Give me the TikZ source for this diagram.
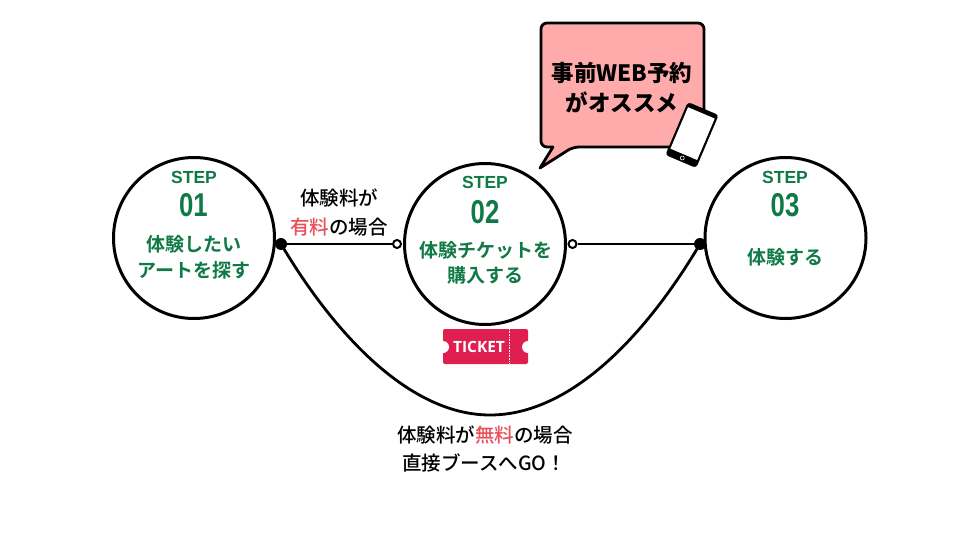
\documentclass[tikz,border=0pt]{standalone}
\usepackage{fontspec}
\setmainfont{Noto Sans CJK JP Medium}[BoldFont={Noto Sans CJK JP Bold}]
\newfontfamily\heavyf{Noto Sans CJK JP Black}
\newfontfamily\latinf{Liberation Sans}[BoldFont={* Bold}]
\newfontfamily\ticketf{Open Sans}[BoldFont={* Bold}]
\definecolor{stepgreen}{HTML}{0F7A45}
\definecolor{bubble}{HTML}{FFABAB}
\definecolor{redword}{HTML}{E8505B}
\definecolor{ticketred}{HTML}{DE1F50}
\tikzset{
  x=1pt,y=-1pt,
  stepcircle/.style={circle,draw=black,line width=3pt,fill=white,minimum size=161pt,inner sep=0pt},
  steplabel/.style={text=stepgreen,font=\latinf\bfseries\fontsize{17.5}{17.5}\selectfont,inner sep=0pt},
  stepnum/.style={text=stepgreen,font=\latinf\bfseries\fontsize{33}{33}\selectfont,inner sep=0pt,xscale=.78},
  stepbody/.style={text=stepgreen,font=\bfseries\fontsize{19}{25.5}\selectfont,align=center,inner sep=0pt},
  notetext/.style={text=black,font=\fontsize{19.5}{28.5}\selectfont,align=center,inner sep=0pt},
  wire/.style={line width=2.8pt,draw=black},
  opendot/.style={circle,draw=black,line width=2pt,fill=white,minimum size=8pt,inner sep=0pt},
  fulldot/.style={circle,fill=black,minimum size=12pt,inner sep=0pt},
}
\begin{document}
\begin{tikzpicture}
\useasboundingbox (0,0) rectangle (980,551);
\fill[white] (0,0) rectangle (980,551);
% connectors under circles
\coordinate (p1) at (281,244);
\coordinate (p2) at (700,244);
\draw[wire] (p1) .. controls (335,335) and (410,415) .. (490,415) .. controls (571,415) and (646,335) .. (p2);
% circles
\node[stepcircle] (c1) at (194,238) {};
\node[stepcircle] (c2) at (485,244) {};
\node[stepcircle] (c3) at (785.5,238) {};
% connection points
\node[fulldot] (d1) at (p1) {};
\node[opendot] (o1) at (397,244) {};
\node[opendot] (o2) at (572.5,244) {};
\node[fulldot] (d2) at (p2) {};
\draw[wire] (d1) -- (o1);
\draw[wire] (o2) -- (d2);
% circle 1 text
\node[steplabel] (s1) at (194,177) {STEP};
\node[stepnum] (n1) at (193.5,205) {01};
\node[stepbody] (b1) at (194,257.5) {体験したい\\アートを探す};
% circle 2 text
\node[steplabel] (s2) at (485,182) {STEP};
\node[stepnum] (n2) at (485,212) {02};
\node[stepbody] (b2) at (485.5,263) {体験チケットを\\購入する};
% circle 3 text
\node[steplabel] (s3) at (785,177) {STEP};
\node[stepnum] (n3) at (785,205) {03};
\node[stepbody] (b3) at (785,257) {体験する};
% labels
\node[notetext] (l1) at (339,212.5) {体験料が\\{\color{redword}有料}の場合};
\node[notetext] (l2) at (485,449) {体験料が{\color{redword}無料}の場合\\\hspace*{-2pt}直接ブースへGO！};
% speech bubble
\draw[line width=2.8pt,fill=bubble,line join=round]
  [rounded corners=6pt] (553,147) -- (541,147) -- (541,23) -- (704,23) -- (704,147) -- (573,147)
  [sharp corners] -- (540,168) -- cycle;
\node[inner sep=0pt,align=center,font=\heavyf\fontsize{22.5}{30}\selectfont] (bt) at (622,88) {事前WEB予約\\がオススメ};
% phone
\begin{scope}[shift={(692,135)},rotate=-23]
\draw[fill=black,rounded corners=3pt,line width=.4pt] (-16.5,-28.5) rectangle (16.5,28.5);
\fill[white] (-14.5,-24) rectangle (14.5,21);
\draw[white,line width=.6pt] (0,25) circle (2);
\end{scope}
% ticket
\fill[ticketred,rounded corners=2pt] (443,329) rectangle (528,364);
\fill[white] (443,347) circle (6);
\fill[white] (528,347) circle (6);
\draw[white,line width=.6pt,densely dotted] (509,329) -- (509,364);
\node[text=white,inner sep=0pt,font=\ticketf\bfseries\fontsize{15.5}{15.5}\selectfont] (tk) at (479,347) {TICKET};
\end{tikzpicture}
\end{document}
